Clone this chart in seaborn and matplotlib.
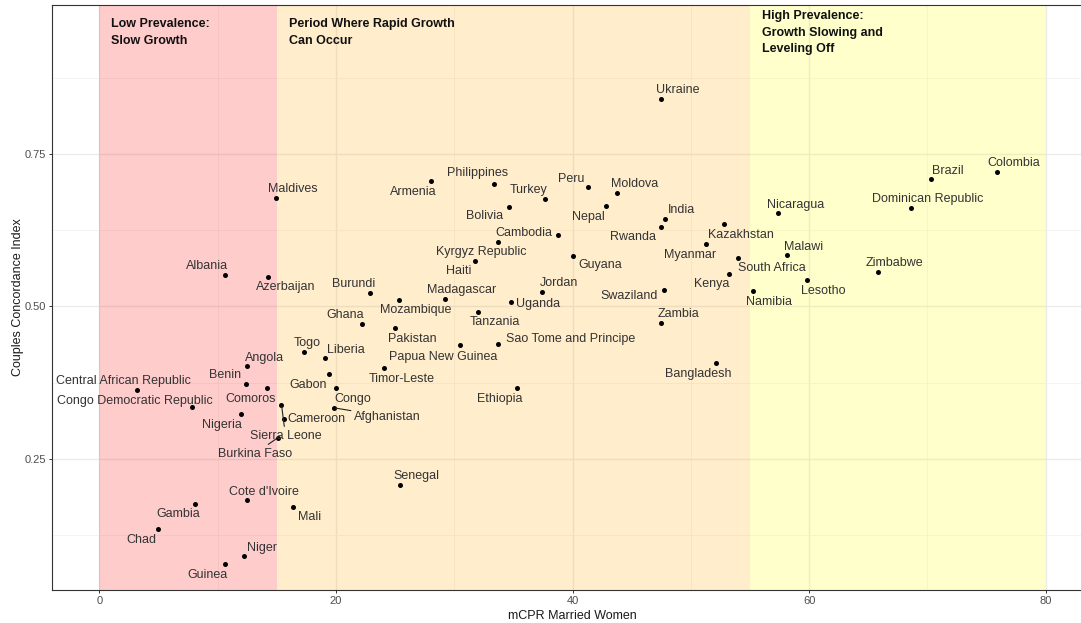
import matplotlib
matplotlib.use("Agg")
import matplotlib.pyplot as plt
import seaborn as sns
import pandas as pd

# ---------------- data ----------------
countries = [
    "Maldives", "Albania", "Azerbaijan", "Central African Republic", "Congo Democratic Republic",
    "Angola", "Benin", "Comoros", "Nigeria", "Sierra Leone", "Cameroon", "Burkina Faso",
    "Cote d'Ivoire", "Gambia", "Chad", "Niger", "Guinea", "Mali", "Togo", "Liberia",
    "Gabon", "Congo", "Afghanistan", "Ghana", "Pakistan", "Mozambique", "Burundi",
    "Madagascar", "Tanzania", "Uganda", "Jordan", "Papua New Guinea", "Sao Tome and Principe",
    "Timor-Leste", "Ethiopia", "Senegal", "Armenia", "Philippines", "Turkey", "Bolivia",
    "Cambodia", "Kyrgyz Republic", "Haiti", "Peru", "Moldova", "Nepal", "India", "Rwanda",
    "Kazakhstan", "Myanmar", "Guyana", "South Africa", "Kenya", "Swaziland", "Namibia",
    "Zambia", "Bangladesh", "Ukraine", "Nicaragua", "Malawi", "Lesotho", "Zimbabwe",
    "Dominican Republic", "Brazil", "Colombia",
]
mcpr = [
    14.9, 10.6, 14.3, 3.2, 7.8,
    12.5, 12.4, 14.2, 12.0, 15.4, 15.6, 15.1,
    12.5, 8.1, 5.0, 12.2, 10.6, 16.4, 17.3, 19.1,
    19.4, 20.0, 19.8, 22.2, 25.0, 25.3, 22.9,
    29.2, 32.0, 34.8, 37.4, 30.5, 33.7,
    24.1, 35.3, 25.4, 28.0, 33.4, 37.7, 34.6,
    38.8, 33.7, 31.8, 41.3, 43.8, 42.8, 47.8, 47.5,
    52.8, 51.3, 40.0, 54.0, 53.2, 47.7, 55.3,
    47.5, 52.1, 47.5, 57.4, 58.1, 59.8, 65.8,
    68.6, 70.3, 75.9,
]
cci = [
    0.678, 0.552, 0.548, 0.363, 0.335,
    0.403, 0.373, 0.366, 0.324, 0.339, 0.316, 0.285,
    0.182, 0.177, 0.136, 0.091, 0.078, 0.172, 0.426, 0.416,
    0.389, 0.366, 0.334, 0.472, 0.464, 0.511, 0.522,
    0.513, 0.491, 0.508, 0.524, 0.437, 0.439,
    0.399, 0.367, 0.207, 0.705, 0.701, 0.676, 0.663,
    0.617, 0.605, 0.575, 0.696, 0.686, 0.665, 0.643, 0.630,
    0.635, 0.602, 0.582, 0.580, 0.554, 0.527, 0.525,
    0.473, 0.407, 0.841, 0.653, 0.584, 0.543, 0.557,
    0.661, 0.709, 0.721,
]

zone_start = [0, 15, 55]
zone_end = [15, 55, 80]
zone_color = ["red", "orange", "yellow"]
zone_title = [
    "Low Prevalence:\nSlow Growth",
    "Period Where Rapid Growth\nCan Occur",
    "High Prevalence:\nGrowth Slowing and\nLeveling Off",
]

x_ticks = [0, 20, 40, 60, 80]
y_ticks = [0.25, 0.50, 0.75]
y_tick_labels = ["0.25", "0.50", "0.75"]

# ---------------- layout (label placement, pixels from the point) ----------------
label_offset = {
    "Maldives": (17, 9), "Albania": (-18, 9), "Azerbaijan": (17, -10),
    "Central African Republic": (-14, 9), "Congo Democratic Republic": (-57, 6),
    "Angola": (17, 8), "Benin": (-21, 9), "Comoros": (-17, -11), "Nigeria": (-19, -11),
    "Sierra Leone": (4, -31), "Cameroon": (33, 0), "Burkina Faso": (-23, -16),
    "Cote d'Ivoire": (17, 8), "Gambia": (-17, -10), "Chad": (-17, -11), "Niger": (18, 8),
    "Guinea": (-17, -11), "Mali": (16, -10), "Togo": (3, 9), "Liberia": (21, 8),
    "Gabon": (-21, -11), "Congo": (17, -11), "Afghanistan": (54, -9), "Ghana": (-17, 9),
    "Pakistan": (17, -11), "Mozambique": (17, -10), "Burundi": (-17, 9),
    "Madagascar": (17, 9), "Tanzania": (17, -10), "Uganda": (27, -2), "Jordan": (17, 9),
    "Papua New Guinea": (-17, -12), "Sao Tome and Principe": (73, 5),
    "Timor-Leste": (17, -11), "Ethiopia": (-17, -11), "Senegal": (17, 9),
    "Armenia": (-17, -11), "Philippines": (-17, 11), "Turkey": (-17, 9), "Bolivia": (-24, -9),
    "Cambodia": (-34, 2), "Kyrgyz Republic": (-17, -10), "Haiti": (-17, -10),
    "Peru": (-17, 8), "Moldova": (17, 9), "Nepal": (-17, -11), "India": (17, 9),
    "Rwanda": (-28, -10), "Kazakhstan": (17, -11), "Myanmar": (-16, -11),
    "Guyana": (28, -9), "South Africa": (34, -10), "Kenya": (-17, -10),
    "Swaziland": (-34, -6), "Namibia": (16, -11), "Zambia": (17, 9),
    "Bangladesh": (-17, -11), "Ukraine": (17, 9), "Nicaragua": (17, 8), "Malawi": (17, 8),
    "Lesotho": (17, -11), "Zimbabwe": (17, 9), "Dominican Republic": (17, 9),
    "Brazil": (17, 8), "Colombia": (17, 9),
}
with_segment = {"Sierra Leone", "Burkina Faso", "Afghanistan"}

# ---------------- figure ----------------
sns.set_theme(style="white")
plt.rcParams["font.family"] = ["Liberation Sans", "DejaVu Sans"]

W, H = 1081, 623
fig = plt.figure(figsize=(W / 100, H / 100), dpi=100)
ax = fig.add_axes([52 / W, 33 / H, (1093 - 52) / W, (590 - 5) / H])

df = pd.DataFrame({"country": countries, "mcpr": mcpr, "cci": cci})

# grid
ax.set_xlim(-4, 84)
ax.set_ylim(0.0352, 0.9943)
ax.set_xticks(x_ticks)
ax.set_xticks([10, 30, 50, 70], minor=True)
ax.set_yticks(y_ticks)
ax.set_yticklabels(y_tick_labels)
ax.set_yticks([0.125, 0.375, 0.625, 0.875], minor=True)
ax.grid(which="major", color="#EBEBEB", linewidth=1.0, zorder=0)
ax.grid(which="minor", color="#F2F2F2", linewidth=0.6, zorder=0)
ax.set_axisbelow(True)

# zones
for s, e, c, t in zip(zone_start, zone_end, zone_color, zone_title):
    ax.axvspan(s, e, color=c, alpha=0.2, linewidth=0, zorder=1)
    ax.text(s + 1, 0.949, t, ha="left", va="center", fontsize=9, fontweight="bold",
            color="#111111", linespacing=1.53, zorder=4)

# points
sns.scatterplot(data=df, x="mcpr", y="cci", ax=ax, color="black", s=13,
                linewidth=0, zorder=3, legend=False)

# labels
for c, x, y in zip(countries, mcpr, cci):
    dx, dy = label_offset[c]
    kw = {}
    if c in with_segment:
        kw["arrowprops"] = dict(arrowstyle="-", color="#222222", lw=0.8,
                                shrinkA=0, shrinkB=1.5)
    ax.annotate(c, (x, y), xytext=(dx, dy), textcoords="offset pixels",
                ha="center", va="center", fontsize=9, color="#333333", zorder=5, **kw)

# axes styling
for sp in ax.spines.values():
    sp.set_color("#333333")
    sp.set_linewidth(0.8)
ax.tick_params(which="major", direction="out", length=2.5, width=0.7, color="#333333",
               labelsize=8, labelcolor="#4D4D4D", pad=2, bottom=True, left=True)
ax.tick_params(which="minor", length=0)
ax.set_xlabel("mCPR Married Women", fontsize=9, color="#1a1a1a", labelpad=3)
ax.set_ylabel("Couples Concordance Index", fontsize=9, color="#1a1a1a", labelpad=0)

fig.savefig("out.png", dpi=100)
